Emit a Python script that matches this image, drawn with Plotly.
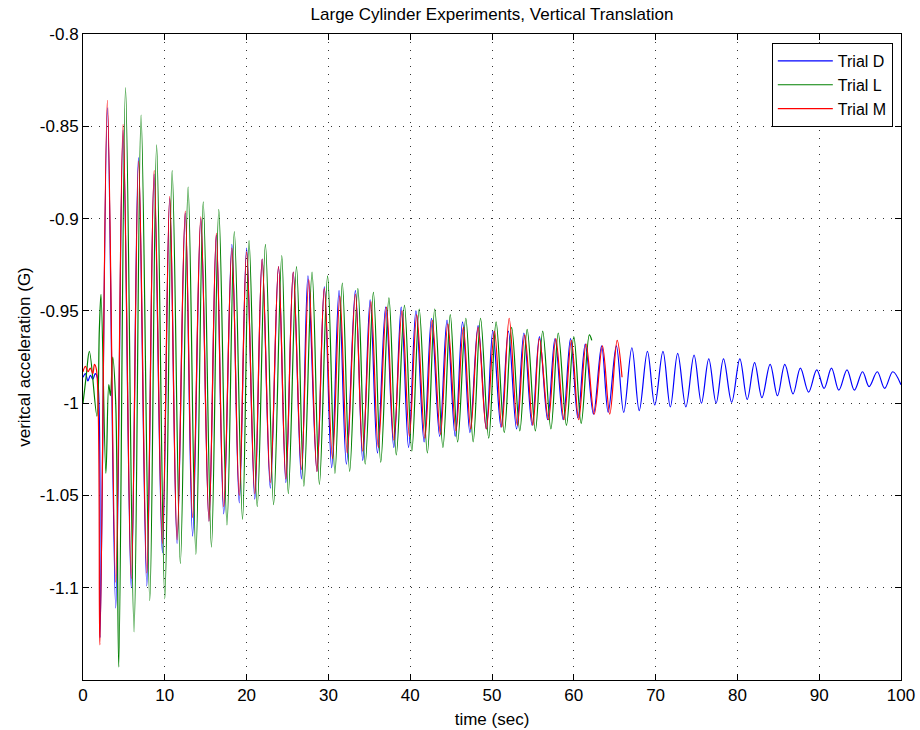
import plotly.graph_objects as go

# ---------------- data ----------------
# Trial D (blue): time (s) and vertical acceleration (G) at turning points
d_time = [0, 0.3, 0.6, 0.9, 1.2, 1.5, 1.75,
          2.08, 2.98, 4.0, 4.9, 5.9, 6.78, 7.8, 8.69, 9.7, 10.6, 11.5, 12.5, 13.4, 14.4,
          15.4, 16.3, 17.2, 18.2, 19.1, 20.0, 21.0, 21.9, 22.9, 23.9, 24.8, 25.7, 26.7, 27.5,
          28.6, 29.5, 30.4, 31.3, 32.2, 33.3, 34.2, 35.1, 36.0, 37.0, 38.0, 38.9, 39.8, 40.7,
          41.7, 42.6, 43.6, 44.5, 45.5, 46.4, 47.3, 48.3, 49.3, 50.1, 51.1, 52.0, 53.0, 53.9,
          54.9, 55.8, 56.8, 57.7, 58.7, 59.6, 60.5, 61.4, 62.4, 63.4, 64.2, 65.2, 66.1, 67.1,
          68.0, 69.0, 69.9, 70.9, 71.8, 72.7, 73.7, 74.7, 75.6, 76.5, 77.4, 78.3, 79.3, 80.3,
          81.2, 82.1, 83.0, 84.0, 84.9, 85.8, 86.8, 87.7, 88.7, 89.7, 90.6, 91.5, 92.4, 93.4,
          94.3, 95.3, 96.1, 97.1, 98.0, 99.0, 100.0]
d_accel = [-0.986, -0.984, -0.988, -0.985, -0.987, -0.984, -0.986,
           -1.127, -0.840, -1.111, -0.852, -1.100, -0.867, -1.099, -0.876, -1.081, -0.889, -1.076, -0.897, -1.072, -0.900,
           -1.064, -0.909, -1.060, -0.914, -1.054, -0.916, -1.052, -0.922, -1.046, -0.926, -1.043, -0.929, -1.041, -0.931,
           -1.037, -0.937, -1.035, -0.939, -1.033, -0.939, -1.031, -0.944, -1.027, -0.948, -1.024, -0.948, -1.024, -0.950,
           -1.021, -0.954, -1.018, -0.955, -1.018, -0.956, -1.016, -0.958, -1.014, -0.961, -1.013, -0.961, -1.014, -0.962,
           -1.012, -0.964, -1.009, -0.965, -1.009, -0.965, -1.008, -0.968, -1.006, -0.969, -1.005, -0.969, -1.005, -0.970,
           -1.004, -0.972, -1.001, -0.972, -1.002, -0.973, -1.002, -0.974, -1.000, -0.976, -1.000, -0.976, -0.9995, -0.976,
           -0.998, -0.978, -0.997, -0.979, -0.996, -0.979, -0.995, -0.981, -0.994, -0.982, -0.992, -0.981, -0.993, -0.982,
           -0.993, -0.983, -0.991, -0.983, -0.992, -0.983, -0.990]

# Trial L (green)
l_time = [0, 0.4, 0.78, 1.7, 2.0, 2.2, 2.8, 3.15, 3.35, 3.63, 4.0,
          4.37, 5.2, 6.24, 7.1, 8.16, 9.0, 10.0, 10.9, 11.9, 12.85, 13.8, 14.7, 15.7, 16.6,
          17.6, 18.5, 19.5, 20.3, 21.3, 22.3, 23.3, 24.3, 25.1, 26.1, 27.0, 28.0, 28.9, 29.9,
          30.8, 31.7, 32.6, 33.6, 34.5, 35.5, 36.4, 37.4, 38.3, 39.3, 40.2, 41.1, 42.1, 43.0,
          44.0, 44.9, 45.8, 46.8, 47.7, 48.6, 49.6, 50.5, 51.5, 52.4, 53.4, 54.3, 55.3, 56.2,
          57.2, 58.1, 59.1, 60.0, 60.9, 61.9, 62.2]
l_accel = [-1.000, -0.985, -0.972, -1.007, -0.960, -0.941, -1.038, -0.990, -0.996, -0.975, -1.000,
           -1.143, -0.829, -1.124, -0.844, -1.107, -0.860, -1.106, -0.874, -1.087, -0.883, -1.082, -0.891, -1.078, -0.895,
           -1.066, -0.907, -1.063, -0.912, -1.056, -0.914, -1.055, -0.920, -1.049, -0.926, -1.045, -0.929, -1.044, -0.931,
           -1.038, -0.935, -1.037, -0.938, -1.033, -0.940, -1.032, -0.943, -1.028, -0.947, -1.026, -0.949, -1.027, -0.949,
           -1.024, -0.952, -1.021, -0.954, -1.021, -0.954, -1.019, -0.956, -1.016, -0.959, -1.015, -0.960, -1.015, -0.961,
           -1.014, -0.962, -1.012, -0.964, -1.011, -0.963, -0.966]

# Trial M (red)
m_time = [0, 0.3, 0.6, 0.9, 1.2, 1.4, 1.65,
          2.06, 2.98, 4.0, 4.9, 5.9, 6.8, 7.8, 8.7, 9.7, 10.6, 11.5, 12.5, 13.4, 14.4,
          15.4, 16.3, 17.2, 18.2, 19.1, 20.0, 21.0, 21.9, 22.9, 23.9, 24.8, 25.7, 26.7, 27.6,
          28.6, 29.5, 30.5, 31.4, 32.3, 33.3, 34.2, 35.2, 36.1, 37.1, 38.0, 39.0, 39.9, 40.8,
          41.8, 42.7, 43.7, 44.6, 45.6, 46.5, 47.4, 48.3, 49.3, 50.3, 51.2, 52.1, 53.1, 54.0,
          55.0, 55.8, 56.9, 57.8, 58.8, 59.7, 60.6, 61.5, 62.5, 63.5, 64.4, 65.3, 65.9]
m_accel = [-0.983, -0.980, -0.983, -0.981, -0.984, -0.979, -0.982,
           -1.131, -0.836, -1.097, -0.849, -1.095, -0.869, -1.092, -0.874, -1.076, -0.888, -1.074, -0.896, -1.062, -0.899,
           -1.064, -0.908, -1.056, -0.916, -1.050, -0.918, -1.049, -0.922, -1.043, -0.926, -1.041, -0.929, -1.036, -0.933,
           -1.037, -0.938, -1.030, -0.942, -1.027, -0.941, -1.026, -0.945, -1.024, -0.948, -1.020, -0.950, -1.018, -0.952,
           -1.019, -0.955, -1.017, -0.957, -1.015, -0.959, -1.014, -0.959, -1.014, -0.961, -1.013, -0.954, -1.012, -0.963,
           -1.012, -0.965, -1.009, -0.965, -1.009, -0.966, -1.009, -0.968, -1.006, -0.969, -1.006, -0.966, -0.986]

x_ticks = [0, 10, 20, 30, 40, 50, 60, 70, 80, 90, 100]
y_ticks = [-1.1, -1.05, -1.0, -0.95, -0.9, -0.85, -0.8]
y_tick_labels = ["-1.1", "-1.05", "-1", "-0.95", "-0.9", "-0.85", "-0.8"]

# ---------------- figure ----------------
FONT = "Liberation Sans, Arial, Helvetica, sans-serif"

fig = go.Figure()
series = [("Trial D", d_time, d_accel, "#0000ff"),
          ("Trial L", l_time, l_accel, "#008000"),
          ("Trial M", m_time, m_accel, "#ff0000")]
for name, t, a, c in series:
    fig.add_trace(go.Scatter(x=t, y=a, mode="lines", name=name,
                             line=dict(color=c, width=1.2, shape="spline", smoothing=1.0)))

axis_common = dict(showline=True, linecolor="black", linewidth=1, mirror="ticks",
                   ticks="inside", ticklen=6, tickcolor="black", automargin=False,
                   showgrid=True, gridcolor="#333333", griddash="1px,7px", gridwidth=1,
                   zeroline=False, tickfont=dict(family=FONT, size=17, color="black"))

fig.update_xaxes(range=[0, 100], tickvals=x_ticks,
                 title=dict(text="time (sec)", font=dict(family=FONT, size=17, color="black"), standoff=8),
                 **axis_common)
fig.update_yaxes(range=[-1.15, -0.8], tickvals=y_ticks, ticktext=y_tick_labels,
                 title=dict(text="veritcal acceleration (G)", font=dict(family=FONT, size=17, color="black"), standoff=4),
                 **axis_common)

fig.update_layout(
    width=920, height=730,
    margin=dict(l=83, r=19, t=34, b=50),
    paper_bgcolor="white", plot_bgcolor="white",
    title=dict(text="Large Cylinder Experiments, Vertical Translation",
               font=dict(family=FONT, size=17, color="black"),
               x=(83 + 901) / 2 / 920, xanchor="center", y=1 - 14 / 730, yanchor="middle"),
    legend=dict(x=0.99, y=0.986, xanchor="right", yanchor="top",
                bgcolor="white", bordercolor="black", borderwidth=1,
                font=dict(family=FONT, size=16, color="black"),
                tracegroupgap=0, itemwidth=55),
    showlegend=True,
)

fig.write_html("out.html")
